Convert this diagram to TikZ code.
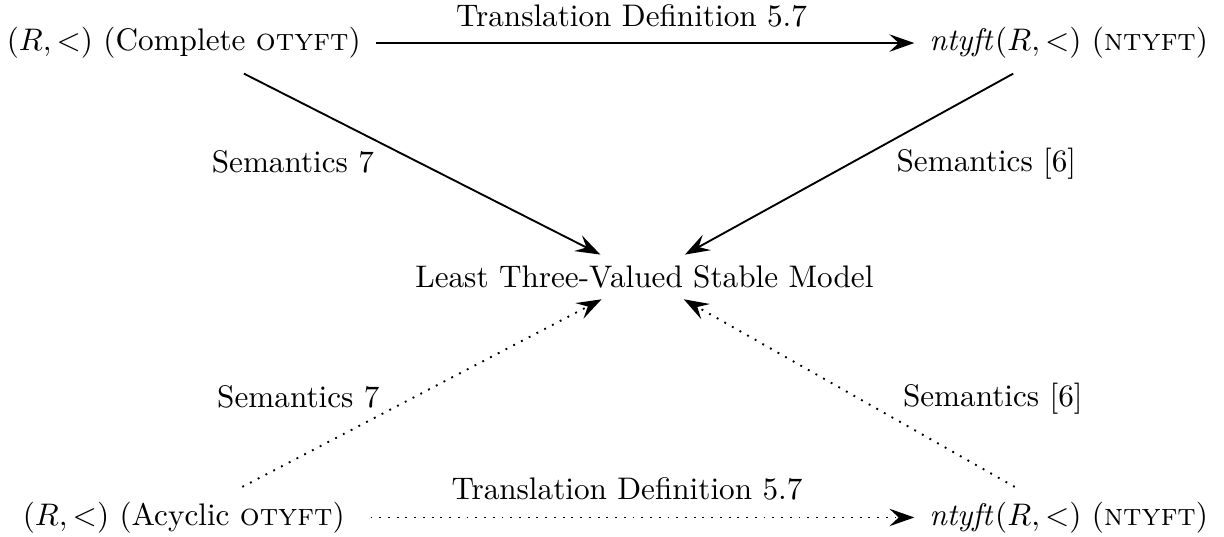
\documentclass[tikz,border=0pt]{standalone}
\usetikzlibrary{arrows.meta,positioning}
\begin{document}
\begin{tikzpicture}[
    >={Stealth[length=8pt,width=5.6pt,inset=3pt]},
    model/.style={inner sep=4.6pt},
    sem/.style={->, semithick},
    semdot/.style={->, semithick, dash pattern=on 0.6pt off 2.2pt},
]
    \useasboundingbox (0,0) rectangle (13.79,-6.04);

    % Programs
    \node[model] (complete) at (2.07,-0.485) {$(R,<)$ (Complete \textsc{otyft})};
    \node[model] (ntyfttop) at (12.04,-0.485) {$\mathit{ntyft}(R,<)$ (\textsc{ntyft})};
    \node[model] (acyclic) at (2.07,-5.83) {$(R,<)$ (Acyclic \textsc{otyft})};
    \node[model] (ntyftbot) at (12.04,-5.83) {$\mathit{ntyft}(R,<)$ (\textsc{ntyft})};

    % Model
    \node (lsm) at (7.26,-3.12) {Least Three-Valued Stable Model};

    % Arrows
    \draw[sem] (complete) -- node[above=1.4pt, xshift=-4.3pt] (trtop) {Translation Definition 5.7} (ntyfttop);
    \draw[sem] (complete) -- node[midway, left=11.8pt, yshift=0.6pt] (semtl) {Semantics 7} (lsm);
    \draw[sem] (ntyfttop) -- node[midway, right=11.6pt] (semtr) {Semantics [6]} (lsm);
    \draw[semdot, shorten <=3.5pt] (acyclic) -- node[above=1.8pt, xshift=-3.2pt] (trbot) {Translation Definition 5.7} (ntyftbot);
    \draw[semdot] (acyclic) -- node[midway, left=10pt, yshift=-1.3pt] (sembl) {Semantics 7} (lsm);
    \draw[semdot] (ntyftbot) -- node[midway, right=13.6pt, yshift=-1.8pt] (sembr) {Semantics [6]} (lsm);
\end{tikzpicture}
\end{document}
